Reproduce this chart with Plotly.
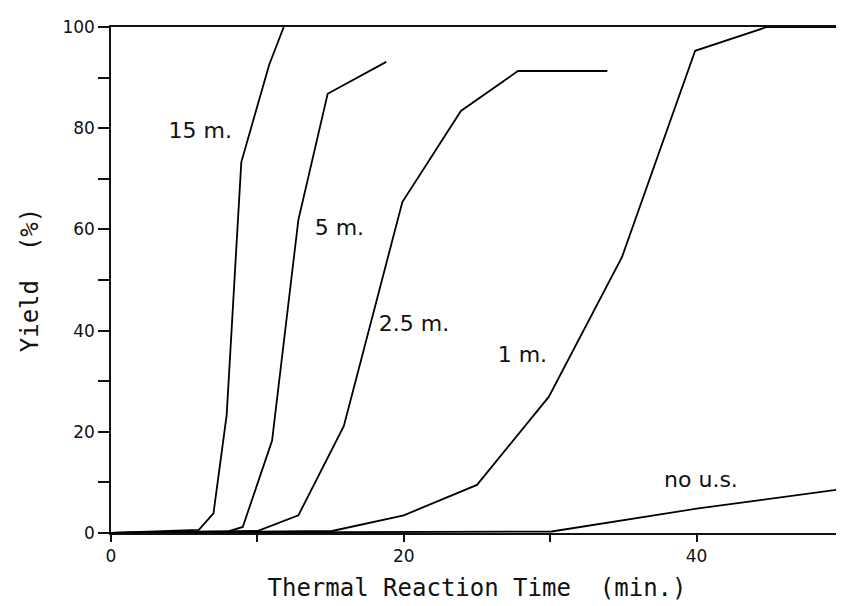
import plotly.graph_objects as go

# Data
x_15 = [0, 6.0, 7.0, 7.9, 8.9, 10.8, 11.8]
y_15 = [0, 0.6, 3.9, 23.3, 73.3, 92.5, 100]

x_5 = [0, 8.0, 9.0, 11.0, 12.8, 14.8, 18.8]
y_5 = [0, 0.3, 1.2, 18.2, 61.9, 86.8, 93.1]

x_25 = [0, 10.0, 12.8, 15.9, 19.9, 23.9, 27.8, 33.9]
y_25 = [0, 0.4, 3.5, 21.1, 65.4, 83.4, 91.3, 91.3]

x_1 = [0, 15.1, 20.0, 25.0, 29.9, 34.9, 39.9, 44.8, 50]
y_1 = [0, 0.4, 3.5, 9.5, 26.9, 54.5, 95.3, 100, 100]

x_nous = [0, 30.1, 40.0, 50.0]
y_nous = [0, 0.3, 4.8, 8.7]

label_text = ["15 m.", "5 m.", "2.5 m.", "1 m.", "no u.s."]
label_x = [6.1, 15.6, 20.7, 28.1, 40.3]
label_y = [79.2, 60.0, 41.1, 34.8, 10.1]

x_ticks = [0, 10, 20, 30, 40]
x_ticklabels = ["0", "", "20", "", "40"]
y_ticks = [0, 10, 20, 30, 40, 50, 60, 70, 80, 90, 100]
y_ticklabels = ["0", "", "20", "", "40", "", "60", "", "80", "", "100"]

FONT = "DejaVu Sans"
TITLE_FONT = "DejaVu Sans Mono"

fig = go.Figure()
for xs, ys in [(x_15, y_15), (x_5, y_5), (x_25, y_25), (x_1, y_1), (x_nous, y_nous)]:
    fig.add_trace(go.Scatter(x=xs, y=ys, mode="lines",
                             line=dict(color="black", width=1.8),
                             showlegend=False, cliponaxis=False))

fig.add_trace(go.Scatter(x=label_x, y=label_y, mode="text", text=label_text,
                         textfont=dict(family=FONT, size=22, color="#111"),
                         showlegend=False))

# The page body has an 8px default margin, so the figure is sized to fit.
fig.update_layout(
    width=836, height=598,
    margin=dict(l=103, r=1, t=19, b=73, autoexpand=False),
    paper_bgcolor="white", plot_bgcolor="white",
    font=dict(family=FONT, color="#111"),
)
fig.update_xaxes(
    range=[0, 50], tickmode="array", tickvals=x_ticks, ticktext=x_ticklabels,
    ticks="outside", ticklen=7, tickwidth=1.5, tickcolor="#111",
    showline=True, linecolor="#111", linewidth=1.5, mirror=True,
    showgrid=False, zeroline=False, automargin=False,
    tickfont=dict(size=17),
    title=dict(text="Thermal Reaction Time\u00a0\u00a0(min.)",
               font=dict(family=TITLE_FONT, size=24), standoff=14),
)
fig.update_yaxes(
    range=[0, 100], tickmode="array", tickvals=y_ticks, ticktext=y_ticklabels,
    ticks="outside", ticklen=11, tickwidth=1.5, tickcolor="#111",
    showline=True, linecolor="#111", linewidth=1.5, mirror=True,
    showgrid=False, zeroline=False, automargin=False,
    tickfont=dict(size=17),
    title=dict(text="Yield\u00a0\u00a0(%)",
               font=dict(family=TITLE_FONT, size=24), standoff=17),
)

fig.write_html("out.html")
